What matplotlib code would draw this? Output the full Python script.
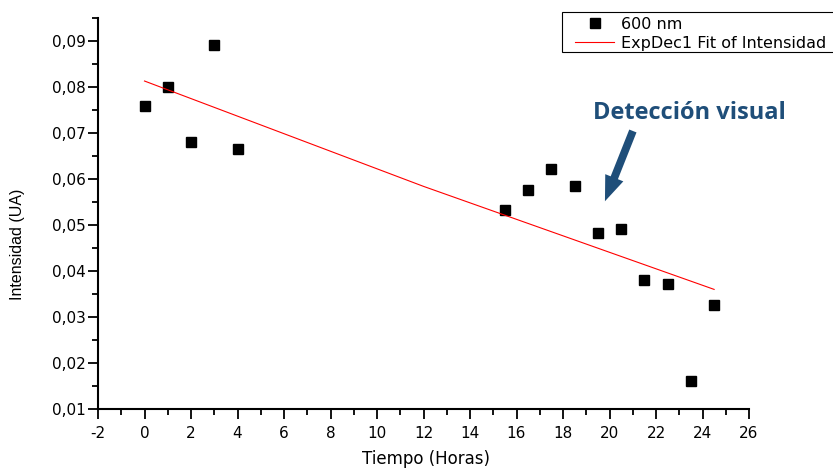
import matplotlib
matplotlib.use("Agg")
import matplotlib.pyplot as plt
from matplotlib.patches import Rectangle
from matplotlib.ticker import MultipleLocator, FuncFormatter

# Data
tiempo = [0, 1, 2, 3, 4, 15.5, 16.5, 17.5, 18.5, 19.5, 20.5, 21.5, 22.5, 23.5, 24.5]
intensidad = [0.0758, 0.0799, 0.0681, 0.0891, 0.0665, 0.0532, 0.0577, 0.0622, 0.0584,
              0.0483, 0.0491, 0.0381, 0.0371, 0.0161, 0.0326]

# ExpDec1 fit curve (read at a few points)
fit_x = [0, 12, 24.5]
fit_y = [0.0813, 0.0584, 0.0360]

plt.rcParams['font.family'] = ['DejaVu Sans']
plt.rcParams['axes.unicode_minus'] = False

fig = plt.figure(figsize=(8.33, 4.69), dpi=100)
ax = fig.add_axes([98 / 833, 1 - 409 / 469, (749 - 98) / 833, (409 - 18) / 469])

ax.plot(tiempo, intensidad, 's', color='black', markersize=7.5, label='600 nm')
ax.plot(fit_x, fit_y, '-', color='red', linewidth=0.8, label='ExpDec1 Fit of Intensidad')

ax.set_xlim(-2, 26)
ax.set_ylim(0.01, 0.095)
ax.spines['top'].set_visible(False)
ax.spines['right'].set_visible(False)
ax.spines['left'].set_linewidth(1.5)
ax.spines['bottom'].set_linewidth(1.5)

ax.xaxis.set_major_locator(MultipleLocator(2))
ax.xaxis.set_minor_locator(MultipleLocator(1))
ax.yaxis.set_major_locator(MultipleLocator(0.01))
ax.yaxis.set_minor_locator(MultipleLocator(0.005))
ax.yaxis.set_major_formatter(FuncFormatter(lambda v, p: f"{v:.2f}".replace('.', ',')))
ax.tick_params(which='major', length=7, width=1.3, labelsize=11, direction='out')
ax.tick_params(which='minor', length=4, width=1.3, direction='out')
ax.tick_params(axis='x', pad=5)
ax.tick_params(axis='y', pad=2)

ax.set_xlabel('Tiempo (Horas)', fontsize=12)
ax.xaxis.label.set_va('center')
ax.xaxis.set_label_coords(0.504, -0.128)
ax.set_ylabel('Intensidad (UA)', fontsize=11.5, family=['Liberation Sans'])
ax.yaxis.label.set_va('center')
ax.yaxis.set_label_coords(-0.123, 0.42)

# legend box runs off the right edge like in the original
ax.add_patch(Rectangle((562 / 833, 1 - 52 / 469), 300 / 833, 40 / 469,
                       transform=fig.transFigure, facecolor='white',
                       edgecolor='black', linewidth=0.8, zorder=4, clip_on=False))
leg = ax.legend(loc='upper left', bbox_to_anchor=(575 / 833, 1 - 17 / 469),
                bbox_transform=fig.transFigure, fontsize=11.5, frameon=False,
                borderpad=0, borderaxespad=0, handlelength=2.45,
                labelspacing=0.25, handletextpad=0.45)
leg.set_zorder(6)

ax.annotate('', xy=(19.76, 0.0546), xytext=(21.05, 0.0710),
            arrowprops=dict(arrowstyle='simple,head_width=1.0,head_length=1.3,tail_width=0.4',
                            mutation_scale=14, color='#1f4e79', lw=0))
ax.text(689 / 833, 1 - 113 / 469, 'Detección visual', transform=fig.transFigure,
        ha='center', va='center', fontsize=17, fontweight='bold',
        family=['Open Sans', 'DejaVu Sans'], color='#1f4e79')

fig.savefig('out.png', dpi=100)
